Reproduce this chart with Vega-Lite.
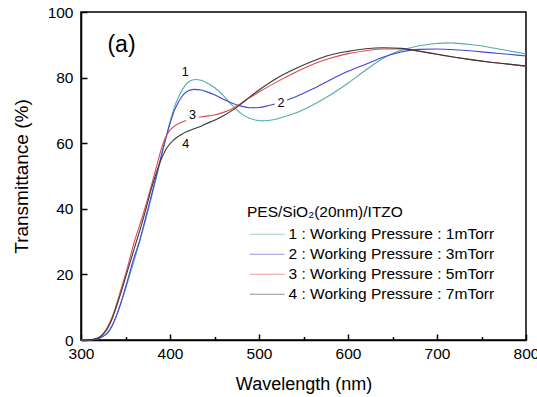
{
  "$schema": "https://vega.github.io/schema/vega-lite/v6.json",
  "width": 445,
  "height": 328,
  "autosize": {"type": "none"},
  "padding": {"left": 81, "top": 12, "right": 11, "bottom": 57},
  "background": "white",
  "config": {
    "font": "Liberation Sans",
    "view": {"stroke": "#000", "strokeWidth": 1.5},
    "axis": {
      "grid": false,
      "domainColor": "#000",
      "domainWidth": 1.5,
      "tickColor": "#000",
      "tickWidth": 1.5,
      "labelColor": "#000",
      "titleColor": "#000",
      "labelFont": "Liberation Sans",
      "titleFont": "Liberation Sans",
      "labelFontSize": 15.5,
      "titleFontSize": 18,
      "titleFontWeight": "normal",
      "labelFlush": false
    },
    "legend": {
      "titleFont": "Liberation Sans",
      "labelFont": "Liberation Sans",
      "titleFontSize": 15.5,
      "labelFontSize": 15.5,
      "titleFontWeight": "normal",
      "titleColor": "#000",
      "labelColor": "#000"
    }
  },
  "data": {
    "values": [
      {"s": "1", "w": 300, "t": 0}, {"s": "1", "w": 310, "t": 0.1}, {"s": "1", "w": 315, "t": 0.2}, {"s": "1", "w": 320, "t": 0.5},
      {"s": "1", "w": 325, "t": 1.2}, {"s": "1", "w": 330, "t": 2.3}, {"s": "1", "w": 335, "t": 4.5}, {"s": "1", "w": 340, "t": 7.5},
      {"s": "1", "w": 345, "t": 11.3}, {"s": "1", "w": 350, "t": 15.5}, {"s": "1", "w": 360, "t": 24.5}, {"s": "1", "w": 370, "t": 34},
      {"s": "1", "w": 380, "t": 44.5}, {"s": "1", "w": 390, "t": 55.5}, {"s": "1", "w": 395, "t": 61}, {"s": "1", "w": 400, "t": 66.5},
      {"s": "1", "w": 405, "t": 71}, {"s": "1", "w": 410, "t": 74.3}, {"s": "1", "w": 415, "t": 76.8}, {"s": "1", "w": 420, "t": 78.5},
      {"s": "1", "w": 428, "t": 79.4}, {"s": "1", "w": 435, "t": 79.2}, {"s": "1", "w": 440, "t": 78.6}, {"s": "1", "w": 450, "t": 77},
      {"s": "1", "w": 460, "t": 74.5}, {"s": "1", "w": 470, "t": 71.5}, {"s": "1", "w": 480, "t": 69}, {"s": "1", "w": 490, "t": 67.5},
      {"s": "1", "w": 500, "t": 66.9}, {"s": "1", "w": 505, "t": 66.8}, {"s": "1", "w": 510, "t": 66.9}, {"s": "1", "w": 520, "t": 67.4},
      {"s": "1", "w": 530, "t": 68.2}, {"s": "1", "w": 540, "t": 69.1}, {"s": "1", "w": 560, "t": 71.6}, {"s": "1", "w": 580, "t": 74.7},
      {"s": "1", "w": 600, "t": 78.3}, {"s": "1", "w": 620, "t": 82.3}, {"s": "1", "w": 640, "t": 86}, {"s": "1", "w": 660, "t": 88.3},
      {"s": "1", "w": 680, "t": 89.7}, {"s": "1", "w": 700, "t": 90.4}, {"s": "1", "w": 712, "t": 90.6}, {"s": "1", "w": 720, "t": 90.5},
      {"s": "1", "w": 740, "t": 90}, {"s": "1", "w": 760, "t": 89.2}, {"s": "1", "w": 780, "t": 88.2}, {"s": "1", "w": 800, "t": 87.2},

      {"s": "2", "w": 300, "t": 0}, {"s": "2", "w": 310, "t": 0.1}, {"s": "2", "w": 315, "t": 0.2}, {"s": "2", "w": 320, "t": 0.5},
      {"s": "2", "w": 325, "t": 1.1}, {"s": "2", "w": 330, "t": 2.2}, {"s": "2", "w": 335, "t": 4.3}, {"s": "2", "w": 340, "t": 7.5},
      {"s": "2", "w": 345, "t": 11.5}, {"s": "2", "w": 350, "t": 16}, {"s": "2", "w": 360, "t": 25.5}, {"s": "2", "w": 365, "t": 29.5},
      {"s": "2", "w": 370, "t": 34.5}, {"s": "2", "w": 380, "t": 45}, {"s": "2", "w": 390, "t": 56}, {"s": "2", "w": 395, "t": 61.3},
      {"s": "2", "w": 400, "t": 66}, {"s": "2", "w": 405, "t": 70}, {"s": "2", "w": 410, "t": 72.8}, {"s": "2", "w": 415, "t": 74.8},
      {"s": "2", "w": 420, "t": 75.9}, {"s": "2", "w": 427, "t": 76.4}, {"s": "2", "w": 435, "t": 76.2}, {"s": "2", "w": 440, "t": 75.8},
      {"s": "2", "w": 450, "t": 74.8}, {"s": "2", "w": 460, "t": 73.4}, {"s": "2", "w": 470, "t": 72.2}, {"s": "2", "w": 480, "t": 71.3},
      {"s": "2", "w": 490, "t": 70.8}, {"s": "2", "w": 500, "t": 70.9}, {"s": "2", "w": 510, "t": 71.4}, {"s": "2", "w": 520, "t": 72.1},
      {"s": "2", "w": 540, "t": 74}, {"s": "2", "w": 560, "t": 76.5}, {"s": "2", "w": 580, "t": 79.3}, {"s": "2", "w": 600, "t": 81.9},
      {"s": "2", "w": 620, "t": 84.1}, {"s": "2", "w": 640, "t": 86.3}, {"s": "2", "w": 660, "t": 87.8}, {"s": "2", "w": 680, "t": 88.6},
      {"s": "2", "w": 700, "t": 88.7}, {"s": "2", "w": 720, "t": 88.5}, {"s": "2", "w": 740, "t": 88.1}, {"s": "2", "w": 760, "t": 87.6},
      {"s": "2", "w": 780, "t": 87.1}, {"s": "2", "w": 800, "t": 86.6},

      {"s": "3", "w": 300, "t": 0}, {"s": "3", "w": 310, "t": 0.1}, {"s": "3", "w": 315, "t": 0.3}, {"s": "3", "w": 320, "t": 0.8},
      {"s": "3", "w": 325, "t": 2}, {"s": "3", "w": 330, "t": 4}, {"s": "3", "w": 335, "t": 7}, {"s": "3", "w": 340, "t": 11},
      {"s": "3", "w": 345, "t": 15.5}, {"s": "3", "w": 350, "t": 20}, {"s": "3", "w": 360, "t": 30}, {"s": "3", "w": 370, "t": 38.5},
      {"s": "3", "w": 378, "t": 46}, {"s": "3", "w": 385, "t": 53}, {"s": "3", "w": 390, "t": 58}, {"s": "3", "w": 395, "t": 61.8},
      {"s": "3", "w": 400, "t": 64}, {"s": "3", "w": 405, "t": 65.2}, {"s": "3", "w": 410, "t": 66}, {"s": "3", "w": 420, "t": 67.1},
      {"s": "3", "w": 434, "t": 68}, {"s": "3", "w": 450, "t": 68.6}, {"s": "3", "w": 460, "t": 69.4}, {"s": "3", "w": 470, "t": 70.5},
      {"s": "3", "w": 480, "t": 72.2}, {"s": "3", "w": 490, "t": 74}, {"s": "3", "w": 500, "t": 75.6}, {"s": "3", "w": 520, "t": 78.7},
      {"s": "3", "w": 540, "t": 81.5}, {"s": "3", "w": 560, "t": 84}, {"s": "3", "w": 580, "t": 85.9}, {"s": "3", "w": 600, "t": 87.3},
      {"s": "3", "w": 620, "t": 88.2}, {"s": "3", "w": 640, "t": 88.7}, {"s": "3", "w": 660, "t": 88.7}, {"s": "3", "w": 680, "t": 88},
      {"s": "3", "w": 700, "t": 87.1}, {"s": "3", "w": 720, "t": 86.2}, {"s": "3", "w": 740, "t": 85.4}, {"s": "3", "w": 760, "t": 84.7},
      {"s": "3", "w": 780, "t": 84.1}, {"s": "3", "w": 800, "t": 83.5},

      {"s": "4", "w": 300, "t": 0}, {"s": "4", "w": 310, "t": 0.1}, {"s": "4", "w": 315, "t": 0.3}, {"s": "4", "w": 320, "t": 0.7},
      {"s": "4", "w": 325, "t": 1.8}, {"s": "4", "w": 330, "t": 3.6}, {"s": "4", "w": 335, "t": 6.5}, {"s": "4", "w": 340, "t": 10.3},
      {"s": "4", "w": 345, "t": 14.5}, {"s": "4", "w": 350, "t": 19}, {"s": "4", "w": 360, "t": 28}, {"s": "4", "w": 370, "t": 37},
      {"s": "4", "w": 380, "t": 47}, {"s": "4", "w": 390, "t": 55}, {"s": "4", "w": 396, "t": 58.4}, {"s": "4", "w": 405, "t": 61.2},
      {"s": "4", "w": 415, "t": 63}, {"s": "4", "w": 425, "t": 64.2}, {"s": "4", "w": 435, "t": 65.2}, {"s": "4", "w": 441, "t": 66},
      {"s": "4", "w": 450, "t": 67}, {"s": "4", "w": 460, "t": 68.4}, {"s": "4", "w": 470, "t": 70}, {"s": "4", "w": 480, "t": 72},
      {"s": "4", "w": 490, "t": 74.2}, {"s": "4", "w": 500, "t": 76.2}, {"s": "4", "w": 520, "t": 79.8}, {"s": "4", "w": 540, "t": 82.6},
      {"s": "4", "w": 560, "t": 85}, {"s": "4", "w": 580, "t": 86.9}, {"s": "4", "w": 600, "t": 88}, {"s": "4", "w": 620, "t": 88.8},
      {"s": "4", "w": 640, "t": 89.1}, {"s": "4", "w": 660, "t": 88.9}, {"s": "4", "w": 680, "t": 88.1}, {"s": "4", "w": 700, "t": 87.1},
      {"s": "4", "w": 720, "t": 86.2}, {"s": "4", "w": 740, "t": 85.4}, {"s": "4", "w": 760, "t": 84.7}, {"s": "4", "w": 780, "t": 84.1},
      {"s": "4", "w": 800, "t": 83.5}
    ]
  },
  "layer": [
    {
      "mark": {"type": "line", "strokeWidth": 1.1, "interpolate": "monotone"},
      "encoding": {
        "x": {
          "field": "w",
          "type": "quantitative",
          "scale": {"domain": [300, 800], "nice": false},
          "axis": {
            "title": "Wavelength (nm)",
            "values": [300, 350, 400, 450, 500, 550, 600, 650, 700, 750, 800],
            "labelExpr": "datum.value % 100 === 0 ? datum.label : ''",
            "tickSize": {"condition": {"test": "datum.value % 100 === 0", "value": -6}, "value": -3.5},
            "labelPadding": 12,
            "titlePadding": 14
          }
        },
        "y": {
          "field": "t",
          "type": "quantitative",
          "scale": {"domain": [0, 100], "nice": false},
          "axis": {
            "title": "Transmittance (%)",
            "titleFontSize": 19,
            "values": [0, 10, 20, 30, 40, 50, 60, 70, 80, 90, 100],
            "labelExpr": "datum.value % 20 === 0 ? datum.label : ''",
            "tickSize": {"condition": {"test": "datum.value % 20 === 0", "value": -6}, "value": -3.5},
            "labelPadding": 14,
            "titlePadding": 16
          }
        },
        "color": {
          "field": "s",
          "type": "nominal",
          "scale": {"domain": ["1", "2", "3", "4"], "range": ["#55aca9", "#4444d8", "#e04848", "#383838"]},
          "legend": {
            "title": "PES/SiO₂(20nm)/ITZO",
            "orient": "none",
            "legendX": 166,
            "legendY": 193,
            "symbolType": "M-1,0H6",
            "symbolSize": 100,
            "symbolStrokeWidth": 1,
            "symbolOpacity": 0.55,
            "labelOffset": 26,
            "labelLimit": 0,
            "titlePadding": 6,
            "rowPadding": 3,
            "labelExpr": "datum.label == '1' ? '1 : Working Pressure : 1mTorr' : datum.label == '2' ? '2 : Working Pressure : 3mTorr' : datum.label == '3' ? '3 : Working Pressure : 5mTorr' : '4 : Working Pressure : 7mTorr'"
          }
        }
      }
    },
    {
      "data": {"values": [{}]},
      "mark": {"type": "point", "shape": "square", "filled": true, "color": "white", "size": 150, "opacity": 1},
      "encoding": {"x": {"datum": 524.6}, "y": {"datum": 72.4}}
    },
    {
      "data": {"values": [{}]},
      "mark": {"type": "point", "shape": "square", "filled": true, "color": "white", "size": 160, "opacity": 1},
      "encoding": {"x": {"datum": 425.2}, "y": {"datum": 68.6}}
    },
    {
      "data": {"values": [{}]},
      "mark": {"type": "text", "text": "1", "fontSize": 12.5, "font": "Liberation Sans", "color": "#000", "align": "center", "baseline": "middle"},
      "encoding": {"x": {"datum": 417}, "y": {"datum": 81.8}}
    },
    {
      "data": {"values": [{}]},
      "mark": {"type": "text", "text": "2", "fontSize": 12.5, "font": "Liberation Sans", "color": "#000", "align": "center", "baseline": "middle"},
      "encoding": {"x": {"datum": 524.6}, "y": {"datum": 72.4}}
    },
    {
      "data": {"values": [{}]},
      "mark": {"type": "text", "text": "3", "fontSize": 12.5, "font": "Liberation Sans", "color": "#000", "align": "center", "baseline": "middle"},
      "encoding": {"x": {"datum": 425.2}, "y": {"datum": 68.6}}
    },
    {
      "data": {"values": [{}]},
      "mark": {"type": "text", "text": "4", "fontSize": 12.5, "font": "Liberation Sans", "color": "#000", "align": "center", "baseline": "middle"},
      "encoding": {"x": {"datum": 417.8}, "y": {"datum": 59.8}}
    },
    {
      "data": {"values": [{}]},
      "mark": {"type": "text", "text": "(a)", "fontSize": 23, "font": "Liberation Sans", "color": "#000", "align": "center", "baseline": "middle"},
      "encoding": {"x": {"datum": 345.5}, "y": {"datum": 89.8}}
    }
  ]
}
